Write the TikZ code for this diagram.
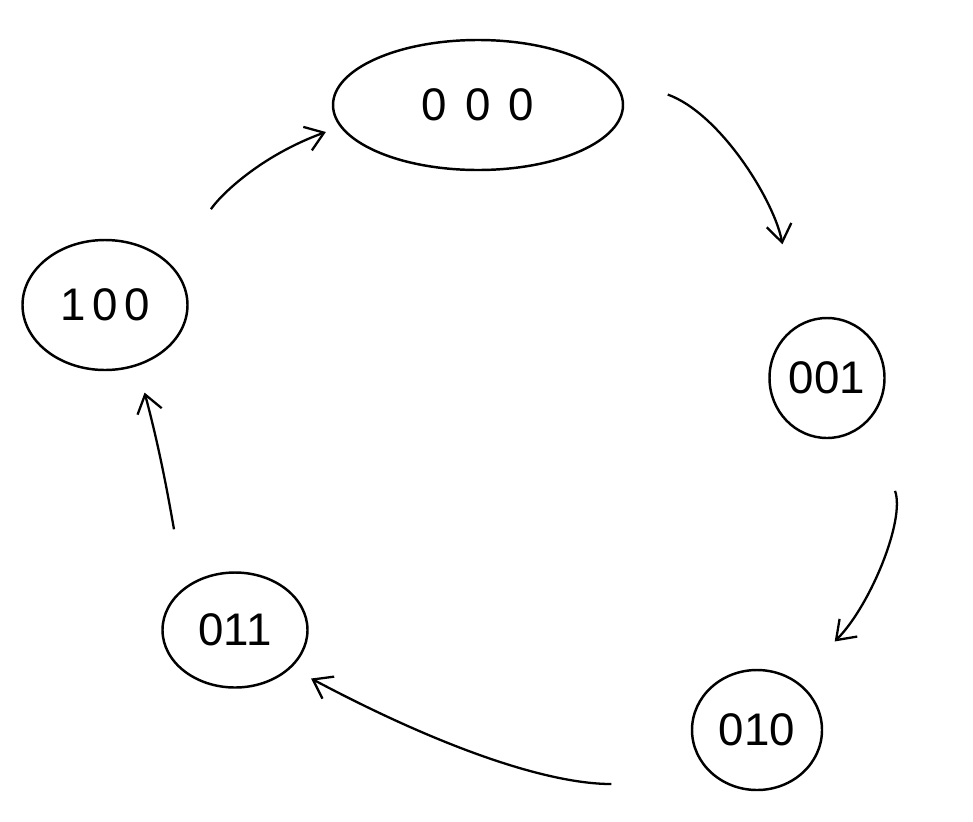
\documentclass[tikz,border=0pt]{standalone}
\usepackage{fontspec}
\setmainfont{Liberation Sans}
\usetikzlibrary{arrows.meta,shapes.geometric}

\begin{document}
\begin{tikzpicture}[
    state/.style={ellipse,draw,line width=1.4pt,inner sep=0pt,
      font=\fontsize{26}{28}\selectfont},
    trans/.style={line width=1.3pt,
      -{Straight Barb[length=3.5mm,width=5mm]}}
  ]
  \useasboundingbox (0,0) rectangle (19.46,-16.42);
  % states
  \node[state,minimum width=5.8cm,minimum height=2.6cm] (s000) at (9.56,-2.1)
    {\addfontfeature{LetterSpace=40}000};
  \node[state,minimum width=2.3cm,minimum height=2.4cm] (s001) at (16.54,-7.56) {001};
  \node[state,minimum width=2.6cm,minimum height=2.4cm] (s010) at (15.14,-14.6) {010};
  \node[state,minimum width=2.9cm,minimum height=2.3cm] (s011) at (4.7,-12.6) {011};
  \node[state,minimum width=3.3cm,minimum height=2.6cm] (s100) at (2.1,-6.1)
    {\addfontfeature{LetterSpace=15}100};
  % transitions
  \draw[trans,shorten <=1.37cm,shorten >=0.3cm]
    (s100.30) to[out=56,in=200] (s000.189);
  \draw[trans,shorten <=1.36cm,shorten >=1.65cm]
    (s000.15) to[out=-20,in=100] (s001.120);
  \draw[trans,shorten <=1.5cm,shorten >=1.1cm]
    (s001.-45) to[out=-70,in=45] (s010.52);
  \draw[trans,shorten <=2.29cm,shorten >=0.45cm]
    (s010.240) to[out=180,in=-28] (s011.-34);
  \draw[trans,shorten <=1.18cm,shorten >=0.55cm]
    (s011.140) to[out=100,in=-75] (s100.-62);
\end{tikzpicture}
\end{document}
